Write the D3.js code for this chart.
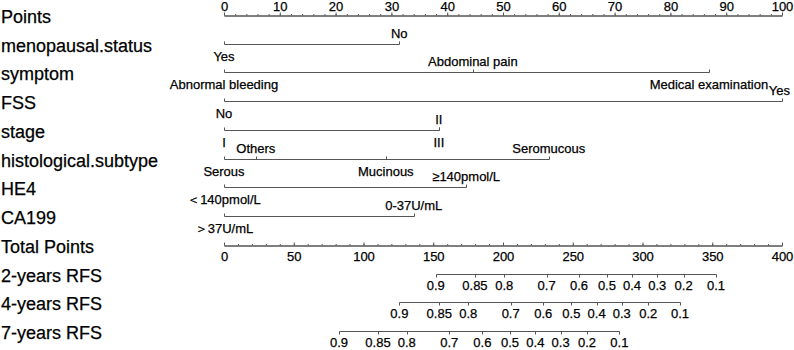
<!DOCTYPE html>
<html>
<head>
<meta charset="utf-8">
<script src="https://cdn.jsdelivr.net/npm/d3@7"></script>
<style>
  body { margin: 0; background: #fff; }
  svg { display: block; font-family: "Liberation Sans", Arial, sans-serif; }
  svg text { stroke: #000; stroke-width: 0.25px; }
</style>
</head>
<body>
<svg id="chart" width="794" height="350"></svg>
<script>
// row names, top to bottom
const rowNames = ['Points', 'menopausal.status', 'symptom', 'FSS', 'stage',
  'histological.subtype', 'HE4', 'CA199', 'Total Points',
  '2-years RFS', '4-years RFS', '7-years RFS'];

// points scale ticks
const pointsTicks = d3.range(0, 101, 10);
const pointsMinor = d3.range(0, 101, 2);
const totalTicks = d3.range(0, 401, 50);
const totalMinor = d3.range(0, 401, 10);

// predictor levels and their points
const menopausalLevels = ['Yes', 'No'];
const menopausalPoints = [0, 31.4];
const symptomLevels = ['Abnormal bleeding', 'Abdominal pain', 'Medical examination'];
const symptomPoints = [0, 44.6, 86.9];
const fssLevels = ['No', 'Yes'];
const fssPoints = [0, 100];
const stageLevels = ['I', 'II', 'III'];
const stagePoints = [0, 38.5, 38.5];
const histLevels = ['Serous', 'Others', 'Mucinous', 'Seromucous'];
const histPoints = [0, 5.7, 29, 58.2];
const he4Levels = ['＜140pmol/L', '≥140pmol/L'];
const he4Points = [0, 43.4];
const ca199Levels = ['＞37U/mL', '0-37U/mL'];
const ca199Points = [0, 34];

// survival probabilities and their total points
const rfsTicks = [0.9, 0.85, 0.8, 0.7, 0.6, 0.5, 0.4, 0.3, 0.2, 0.1];
const rfs2Points = [151.8, 179.9, 200.9, 231.3, 254.5, 274.5, 292.5, 310.6, 329.5, 352.7];
const rfs4Points = [125.7, 154.3, 175.1, 205.5, 228.9, 249, 267.1, 285.1, 304.1, 326.9];
const rfs7Points = [82.4, 110.4, 131, 161.5, 185.2, 205, 223.2, 241.3, 260.2, 283.4];

const svg = d3.select('#chart');
const lineColor = '#555';
const smallFont = 13;

const x = d3.scaleLinear().domain([0, 100]).range([224, 782]);
const xTotal = d3.scaleLinear().domain([0, 400]).range([224, 782]);
const y = d3.scalePoint().domain(rowNames).range([15, 331]);
const rowY = name => Math.round(y(name)) + 0.5;

// row labels on the left
svg.selectAll('text.row')
  .data(rowNames)
  .join('text')
  .attr('class', 'row')
  .attr('x', 1)
  .attr('y', d => y(d) + 8)
  .attr('font-size', 18)
  .attr('fill', '#000')
  .text(d => d);

function styleAxis(g) {
  g.attr('font-family', null).attr('font-size', smallFont);
  g.selectAll('path, line').attr('stroke', lineColor);
  g.selectAll('text').attr('fill', '#000');
}

// Points axis (labels above)
svg.append('g')
  .attr('transform', `translate(0,${rowY('Points')})`)
  .call(d3.axisTop(x).tickValues(pointsMinor).tickSize(1.5).tickSizeOuter(0).tickFormat(''))
  .call(styleAxis);
svg.append('g')
  .attr('transform', `translate(0,${rowY('Points')})`)
  .call(d3.axisTop(x).tickValues(pointsTicks).tickSize(3).tickSizeOuter(0).tickPadding(2))
  .call(styleAxis);

// Total Points axis (ticks up, labels below)
svg.append('g')
  .attr('transform', `translate(0,${rowY('Total Points')})`)
  .call(d3.axisBottom(xTotal).tickValues(totalMinor).tickSize(-1.5).tickSizeOuter(0).tickFormat(''))
  .call(styleAxis);
svg.append('g')
  .attr('transform', `translate(0,${rowY('Total Points')})`)
  .call(d3.axisBottom(xTotal).tickValues(totalTicks).tickSize(-3).tickSizeOuter(0).tickPadding(6))
  .call(styleAxis);

// keep a label inside the right edge
function keepInside(sel) {
  sel.each(function () {
    const w = this.getComputedTextLength();
    const cx = +this.getAttribute('x');
    if (cx + w / 2 > 790) this.setAttribute('x', 790 - w / 2);
  });
}

// predictor rows
const predictors = [
  { row: 'menopausal.status', levels: menopausalLevels, points: menopausalPoints },
  { row: 'symptom', levels: symptomLevels, points: symptomPoints },
  { row: 'FSS', levels: fssLevels, points: fssPoints },
  { row: 'stage', levels: stageLevels, points: stagePoints },
  { row: 'histological.subtype', levels: histLevels, points: histPoints },
  { row: 'HE4', levels: he4Levels, points: he4Points },
  { row: 'CA199', levels: ca199Levels, points: ca199Points }
];

predictors.forEach(p => {
  const yy = rowY(p.row);
  const g = svg.append('g');
  const px = v => Math.round(x(v)) + 0.5;
  g.append('line')
    .attr('x1', px(d3.min(p.points))).attr('x2', px(d3.max(p.points)))
    .attr('y1', yy).attr('y2', yy)
    .attr('stroke', lineColor);
  const items = p.levels.map((lab, i) => ({ lab, pts: p.points[i], up: i % 2 === 1 }));
  g.selectAll('line.tick')
    .data(items)
    .join('line')
    .attr('class', 'tick')
    .attr('x1', d => px(d.pts)).attr('x2', d => px(d.pts))
    .attr('y1', yy).attr('y2', yy - 3)
    .attr('stroke', lineColor);
  g.selectAll('text')
    .data(items)
    .join('text')
    .attr('x', d => x(d.pts))
    .attr('y', d => d.up ? yy - 6.5 : yy + 16.5)
    .attr('text-anchor', 'middle')
    .attr('font-size', smallFont)
    .attr('fill', '#000')
    .text(d => d.lab)
    .call(keepInside);
});

// survival rows
const survival = [
  { row: '2-years RFS', points: rfs2Points },
  { row: '4-years RFS', points: rfs4Points },
  { row: '7-years RFS', points: rfs7Points }
];

survival.forEach(s => {
  const yy = rowY(s.row);
  const g = svg.append('g');
  const px = v => Math.round(xTotal(v)) + 0.5;
  g.append('line')
    .attr('x1', px(d3.min(s.points))).attr('x2', px(d3.max(s.points)))
    .attr('y1', yy).attr('y2', yy)
    .attr('stroke', lineColor);
  const items = rfsTicks.map((p, i) => ({ p, pts: s.points[i] }));
  g.selectAll('line.tick')
    .data(items)
    .join('line')
    .attr('class', 'tick')
    .attr('x1', d => px(d.pts)).attr('x2', d => px(d.pts))
    .attr('y1', yy).attr('y2', yy + 3)
    .attr('stroke', lineColor);
  g.selectAll('text')
    .data(items)
    .join('text')
    .attr('x', d => xTotal(d.pts))
    .attr('y', yy + 15.5)
    .attr('text-anchor', 'middle')
    .attr('font-size', smallFont)
    .attr('fill', '#000')
    .text(d => d.p);
});
</script>
</body>
</html>
